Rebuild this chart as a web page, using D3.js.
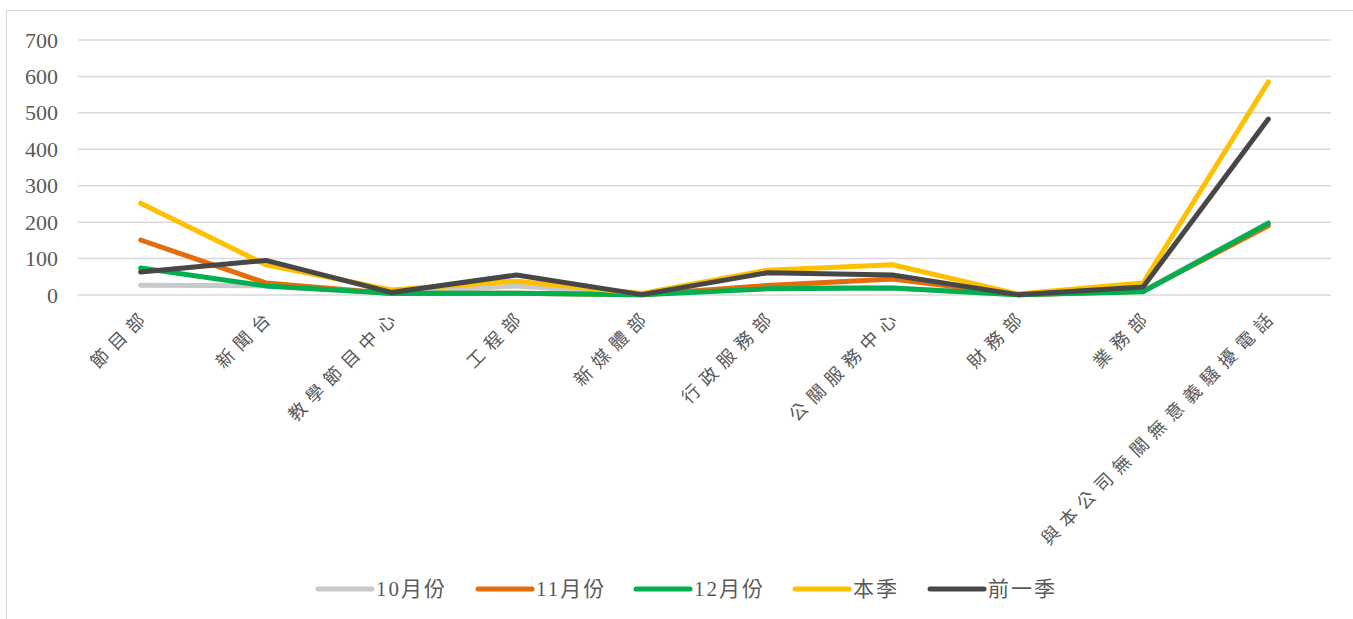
<!DOCTYPE html>
<html>
<head>
<meta charset="utf-8">
<script src="https://cdn.jsdelivr.net/npm/d3@7"></script>
<style>
  body { margin: 0; background: #fff; }
  svg { display: block; }
</style>
</head>
<body>
<div id="chart"></div>
<script>
// categories and series
var categories = ["節目部", "新聞台", "教學節目中心", "工程部", "新媒體部", "行政服務部", "公關服務中心", "財務部", "業務部", "與本公司無關無意義騷擾電話"];
var oct  = [27, 25, 5, 25, 1, 25, 19, 1, 12, 198];
var nov  = [151, 33, 4, 5, 1, 26, 44, 1, 10, 190];
var dec  = [74, 25, 5, 5, 1, 17, 19, 1, 9, 197];
var season = [252, 83, 14, 38, 4, 68, 83, 3, 33, 585];
var lastSeason = [63, 95, 7, 55, 1, 61, 55, 1, 22, 483];
var seriesNames = ["10月份", "11月份", "12月份", "本季", "前一季"];
var seriesColors = ["#c9c9c9", "#e46c0a", "#00b050", "#ffc000", "#474747"];
var yTicks = [0, 100, 200, 300, 400, 500, 600, 700];

var W = 1353, H = 619;
var margin = {top: 40, left: 78, right: 22};
var plotW = W - margin.left - margin.right;

var svg = d3.select("#chart").append("svg")
  .attr("width", W).attr("height", H);

// frame
svg.append("rect")
  .attr("x", 6.5).attr("y", 10.5)
  .attr("width", W + 20).attr("height", H + 20)
  .attr("fill", "none").attr("stroke", "#d9d9d9").attr("stroke-width", 1);

var x = d3.scalePoint().domain(categories).range([margin.left, margin.left + plotW]).padding(0.5);
var y = d3.scaleLinear().domain([0, 700]).range([295, 40]);

// gridlines
svg.append("g").selectAll("line").data(yTicks).enter().append("line")
  .attr("x1", margin.left).attr("x2", margin.left + plotW)
  .attr("y1", d => y(d)).attr("y2", d => y(d))
  .attr("stroke", "#d9d9d9").attr("stroke-width", 1.5);

// y axis labels
var yAxis = d3.axisLeft(y).tickValues(yTicks).tickSize(0).tickPadding(0);
var gy = svg.append("g").attr("transform", "translate(58,0)").call(yAxis);
gy.select(".domain").remove();
gy.selectAll("text")
  .attr("font-family", "'Liberation Serif', 'DejaVu Serif', serif")
  .attr("font-size", 22).attr("fill", "#595959");

// category labels
var xAxis = d3.axisBottom(x).tickSize(0).tickPadding(0);
var gx = svg.append("g").call(xAxis);
gx.select(".domain").remove();
gx.selectAll(".tick").attr("transform", d => "translate(" + (x(d) + 6) + ",312)");
gx.selectAll("text")
  .attr("font-family", "'Noto Sans CJK TC', 'Noto Sans CJK SC', sans-serif")
  .attr("font-size", 18).attr("fill", "#595959")
  .attr("letter-spacing", 7)
  .attr("text-anchor", "end")
  .attr("y", 0).attr("dy", "0.35em")
  .attr("transform", "rotate(-45)");

// lines
var allSeries = [oct, nov, dec, season, lastSeason];
var line = d3.line().x((d, i) => x(categories[i])).y(d => y(d));
svg.append("g").selectAll("path").data(allSeries).enter().append("path")
  .attr("d", line)
  .attr("fill", "none")
  .attr("stroke", (d, i) => seriesColors[i])
  .attr("stroke-width", 5)
  .attr("stroke-linejoin", "round")
  .attr("stroke-linecap", "round");

// legend
var legendX = [318, 478, 636, 795, 930];
var leg = svg.append("g").selectAll("g").data(seriesNames).enter().append("g")
  .attr("transform", (d, i) => "translate(" + legendX[i] + ",589)");
leg.append("line")
  .attr("x1", 0).attr("x2", 54).attr("y1", 0).attr("y2", 0)
  .attr("stroke", (d, i) => seriesColors[i])
  .attr("stroke-width", 5).attr("stroke-linecap", "round");
leg.append("text")
  .attr("x", 58).attr("dy", "0.35em")
  .attr("font-family", "'Liberation Serif', 'Noto Sans CJK TC', serif")
  .attr("font-size", 21).attr("fill", "#595959")
  .attr("letter-spacing", 2)
  .text(d => d);
</script>
</body>
</html>
